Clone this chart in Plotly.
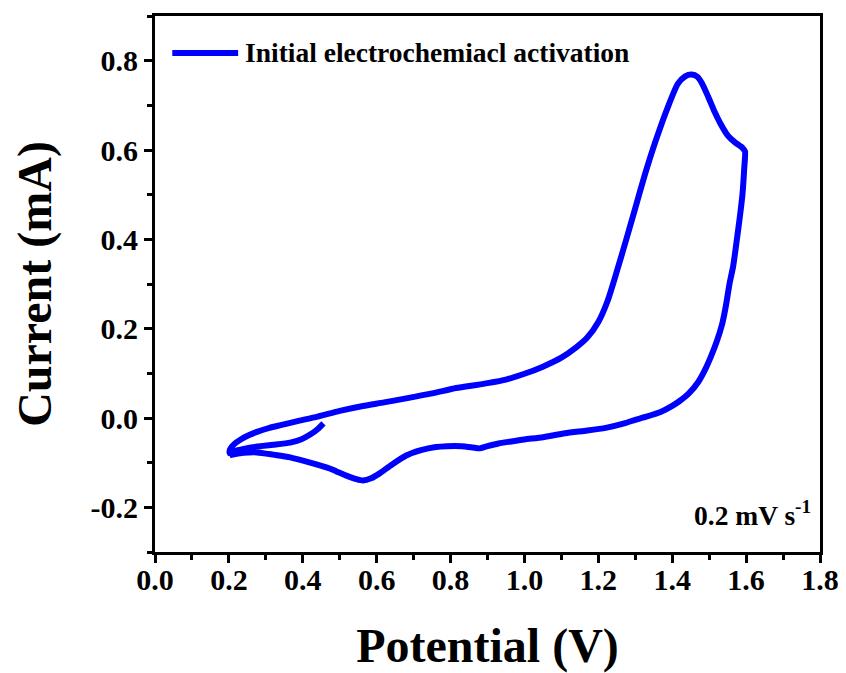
import plotly.graph_objects as go

# Potential (V) and current (mA), in scan order
potential = [0.456, 0.44, 0.42, 0.395, 0.366, 0.32, 0.276, 0.24, 0.215, 0.202,
             0.203, 0.215, 0.232, 0.255, 0.276, 0.31, 0.34, 0.38, 0.44, 0.5,
             0.563, 0.62, 0.68, 0.75, 0.815, 0.87, 0.9, 0.95, 1.0, 1.05,
             1.1, 1.14, 1.17, 1.2, 1.225, 1.25, 1.275, 1.3, 1.325, 1.355,
             1.39, 1.415, 1.435, 1.453, 1.468, 1.48, 1.497, 1.515, 1.53, 1.55,
             1.57, 1.59, 1.597, 1.595, 1.59, 1.583, 1.575, 1.565, 1.555, 1.545,
             1.535, 1.52, 1.505, 1.49, 1.47, 1.445, 1.42, 1.4, 1.37, 1.33,
             1.3, 1.27, 1.22, 1.17, 1.11, 1.05, 1.0, 0.96, 0.93, 0.9,
             0.878, 0.86, 0.83, 0.79, 0.76, 0.72, 0.68, 0.64, 0.608, 0.585,
             0.563, 0.545, 0.518, 0.49, 0.473, 0.42, 0.366, 0.32, 0.276, 0.24,
             0.21, 0.202]
current = [-0.012, -0.025, -0.037, -0.048, -0.055, -0.06, -0.064, -0.069, -0.074, -0.079,
           -0.07, -0.058, -0.048, -0.038, -0.031, -0.022, -0.016, -0.008, 0.003, 0.016,
           0.027, 0.035, 0.044, 0.055, 0.067, 0.074, 0.078, 0.086, 0.099, 0.115,
           0.135, 0.158, 0.18, 0.215, 0.262, 0.328, 0.398, 0.47, 0.542, 0.62,
           0.70, 0.748, 0.765, 0.769, 0.764, 0.75, 0.72, 0.685, 0.66, 0.633,
           0.617, 0.605, 0.597, 0.56, 0.5, 0.45, 0.4, 0.34, 0.3, 0.25,
           0.21, 0.17, 0.138, 0.11, 0.08, 0.055, 0.038, 0.027, 0.014, 0.003,
           -0.004, -0.012, -0.022, -0.028, -0.034, -0.043, -0.048, -0.053, -0.057, -0.063,
           -0.068, -0.066, -0.063, -0.063, -0.065, -0.072, -0.084, -0.105, -0.124, -0.135,
           -0.14, -0.137, -0.129, -0.119, -0.113, -0.1, -0.088, -0.082, -0.077, -0.078,
           -0.082, -0.084]

x_ticks = [0.0, 0.2, 0.4, 0.6, 0.8, 1.0, 1.2, 1.4, 1.6, 1.8]
x_tick_labels = ["0.0", "0.2", "0.4", "0.6", "0.8", "1.0", "1.2", "1.4", "1.6", "1.8"]
y_ticks = [-0.2, 0.0, 0.2, 0.4, 0.6, 0.8]
y_tick_labels = ["-0.2", "0.0", "0.2", "0.4", "0.6", "0.8"]

series_name = "Initial electrochemiacl activation"
scan_rate_label = "0.2 mV s<sup>-1</sup>"

FONT = "Liberation Serif, Times New Roman, serif"
LINE_COLOR = "#0000ff"

fig = go.Figure()
fig.add_trace(go.Scatter(
    x=potential, y=current, mode="lines", name=series_name,
    line=dict(color=LINE_COLOR, width=6, shape="spline", smoothing=0.6),
    showlegend=False,
))

axis_common = dict(
    showline=True, linecolor="black", linewidth=3, mirror=True,
    ticks="outside", ticklen=8, tickwidth=2.5, tickcolor="black",
    showgrid=False, zeroline=False, automargin=False,
    tickfont=dict(family=FONT, size=30, color="black", weight="bold"),
    minor=dict(ticks="outside", ticklen=5, tickwidth=2.5, tickcolor="black", dtick=0.1),
)

fig.update_xaxes(
    range=[0, 1.8], tickvals=x_ticks, ticktext=x_tick_labels,
    ticklabelstandoff=-9,
    title=dict(text="Potential (V)", font=dict(family=FONT, size=48, color="black", weight="bold"), standoff=40),
    **axis_common,
)
fig.update_yaxes(
    range=[-0.3, 0.9], tickvals=y_ticks, ticktext=y_tick_labels,
    title=dict(text="Current (mA)", font=dict(family=FONT, size=48, color="black", weight="bold"), standoff=30),
    **axis_common,
)
fig.update_xaxes(minor=dict(tick0=0))
fig.update_yaxes(minor=dict(tick0=-0.3))

# legend key (line sample + label) drawn like the reference's inset legend
fig.add_shape(
    type="line", xref="paper", yref="paper",
    x0=0.026, x1=0.125, y0=0.931, y1=0.931,
    line=dict(color=LINE_COLOR, width=6), layer="above",
)
fig.add_annotation(
    xref="paper", yref="paper", x=0.133, y=0.931, xanchor="left", yanchor="middle",
    text=series_name, showarrow=False,
    font=dict(family=FONT, size=27.5, color="black", weight="bold"),
)

fig.add_annotation(
    xref="paper", yref="paper", x=0.99, y=0.071, xanchor="right", yanchor="middle",
    text=scan_rate_label, showarrow=False,
    font=dict(family=FONT, size=27.5, color="black", weight="bold"),
)

# page body has an 8px default margin, so the figure is 8px smaller than the window
fig.update_layout(
    width=838, height=665,
    margin=dict(l=147, r=26, t=8, b=121),
    paper_bgcolor="white", plot_bgcolor="white",
    showlegend=False,
)

fig.write_html("out.html")
